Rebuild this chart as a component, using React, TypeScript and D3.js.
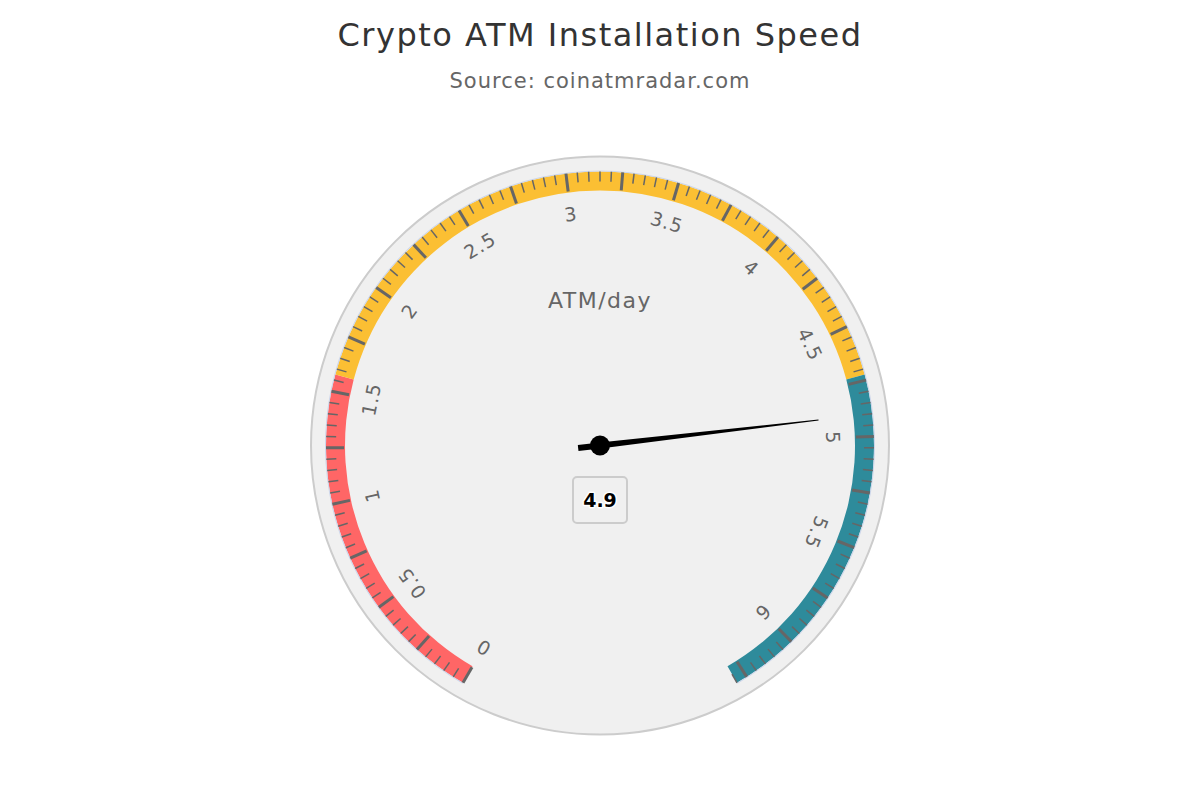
import React, { useRef, useEffect } from "react";
import * as d3 from "d3";

// chart data
const chartTitle = "Crypto ATM Installation Speed";
const chartSubtitle = "Source: coinatmradar.com";
const axisTitle = "ATM/day";
const gaugeMin = 0;
const gaugeMax = 6.3;
const seriesValues = [4.9];
const bandFrom = [0, 1.575, 4.725];
const bandTo = [1.575, 4.725, 6.3];
const bandColors = ["#ff6666", "#fbbf33", "#2e8b9b"];
const tickLabels = [0, 0.5, 1, 1.5, 2, 2.5, 3, 3.5, 4, 4.5, 5, 5.5, 6];
const majorTickStep = 0.25;
const minorTickStep = 0.05;

const W = 1200;
const H = 800;
const FONT = "'DejaVu Sans', Verdana, sans-serif";

const Gauge = () => {
  const svgRef = useRef(null);

  useEffect(() => {
    const svg = d3.select(svgRef.current);
    svg.selectAll("*").remove();

    const cx = 600;
    const cy = 445.5;
    const rBg = 289;
    const rOuter = 274;
    const rInner = 255;

    // angle scale in degrees, 0 = up, clockwise
    const angle = d3.scaleLinear().domain([gaugeMin, gaugeMax]).range([-150, 150]);
    const rad = (d) => (angle(d) * Math.PI) / 180;
    const px = (v, r) => cx + r * Math.sin(rad(v));
    const py = (v, r) => cy - r * Math.cos(rad(v));

    // titles
    svg
      .append("text")
      .attr("x", W / 2)
      .attr("y", 46)
      .attr("text-anchor", "middle")
      .attr("fill", "#333333")
      .style("font-family", FONT)
      .style("font-size", "32px")
      .style("letter-spacing", "1.5px")
      .text(chartTitle);

    svg
      .append("text")
      .attr("x", W / 2)
      .attr("y", 88)
      .attr("text-anchor", "middle")
      .attr("fill", "#666666")
      .style("font-family", FONT)
      .style("font-size", "21px")
      .style("letter-spacing", "1px")
      .text(chartSubtitle);

    // pane background
    svg
      .append("circle")
      .attr("cx", cx)
      .attr("cy", cy)
      .attr("r", rBg)
      .attr("fill", "#f0f0f0")
      .attr("stroke", "#cccccc")
      .attr("stroke-width", 2);

    const g = svg.append("g").attr("transform", `translate(${cx},${cy})`);

    // plot bands
    const arc = d3.arc();
    g.selectAll("path.band")
      .data(bandFrom.map((f, i) => ({ from: f, to: bandTo[i], color: bandColors[i] })))
      .enter()
      .append("path")
      .attr("class", "band")
      .attr("d", (d) =>
        arc({
          innerRadius: rInner,
          outerRadius: rOuter,
          startAngle: rad(d.from),
          endAngle: rad(d.to),
        })
      )
      .attr("fill", (d) => d.color);

    // thin axis line along the outer edge
    g.append("path")
      .attr(
        "d",
        d3.arc()({
          innerRadius: rOuter,
          outerRadius: rOuter + 1,
          startAngle: rad(gaugeMin),
          endAngle: rad(gaugeMax),
        })
      )
      .attr("fill", "#ccd6eb");

    // ticks
    const majors = d3.range(gaugeMin, gaugeMax + 1e-9, majorTickStep);
    const minors = d3
      .range(gaugeMin, gaugeMax + 1e-9, minorTickStep)
      .filter((v) => Math.abs(v / majorTickStep - Math.round(v / majorTickStep)) > 1e-6);

    svg
      .selectAll("line.minor")
      .data(minors)
      .enter()
      .append("line")
      .attr("class", "minor")
      .attr("x1", (d) => px(d, rOuter))
      .attr("y1", (d) => py(d, rOuter))
      .attr("x2", (d) => px(d, rOuter - 10))
      .attr("y2", (d) => py(d, rOuter - 10))
      .attr("stroke", "#666666")
      .attr("stroke-width", 1.5);

    svg
      .selectAll("line.major")
      .data(majors)
      .enter()
      .append("line")
      .attr("class", "major")
      .attr("x1", (d) => px(d, rOuter))
      .attr("y1", (d) => py(d, rOuter))
      .attr("x2", (d) => px(d, rOuter - 18))
      .attr("y2", (d) => py(d, rOuter - 18))
      .attr("stroke", "#666666")
      .attr("stroke-width", 3);

    // tick labels, rotated along the arc
    svg
      .selectAll("text.tick")
      .data(tickLabels)
      .enter()
      .append("text")
      .attr("class", "tick")
      .attr(
        "transform",
        (d) => `translate(${px(d, 233)},${py(d, 233)}) rotate(${angle(d)})`
      )
      .attr("text-anchor", "middle")
      .attr("dy", "0.35em")
      .attr("fill", "#666666")
      .style("font-family", FONT)
      .style("font-size", "19px")
      .style("letter-spacing", "1px")
      .text((d) => String(d));

    // axis title
    svg
      .append("text")
      .attr("x", cx)
      .attr("y", 308)
      .attr("text-anchor", "middle")
      .attr("fill", "#666666")
      .style("font-family", FONT)
      .style("font-size", "22px")
      .style("letter-spacing", "1.5px")
      .text(axisTitle);

    // needle
    const v = seriesValues[0];
    const needle = g.append("g").attr("transform", `rotate(${angle(v) - 90})`);
    needle
      .append("path")
      .attr("d", "M -22 -3 L 0 -3 L 220 -0.5 L 220 0.5 L 0 3 L -22 3 Z")
      .attr("fill", "#000000");
    g.append("circle").attr("r", 10).attr("fill", "#000000");

    // data label
    svg
      .append("rect")
      .attr("x", 573)
      .attr("y", 477)
      .attr("width", 54)
      .attr("height", 46)
      .attr("rx", 4)
      .attr("fill", "#f0f0f0")
      .attr("stroke", "#cccccc")
      .attr("stroke-width", 2);
    svg
      .append("text")
      .attr("x", cx)
      .attr("y", 507)
      .attr("text-anchor", "middle")
      .attr("fill", "#000000")
      .attr("stroke", "#ffffff")
      .attr("stroke-width", 3)
      .attr("paint-order", "stroke")
      .attr("stroke-linejoin", "round")
      .style("font-family", FONT)
      .style("font-size", "19px")
      .style("font-weight", "bold")
      .text(String(v));
  }, []);

  return (
    <svg
      ref={svgRef}
      width={W}
      height={H}
      style={{ position: "absolute", left: 0, top: 0, background: "#ffffff" }}
    ></svg>
  );
};

export default function App() {
  return <Gauge />;
}
